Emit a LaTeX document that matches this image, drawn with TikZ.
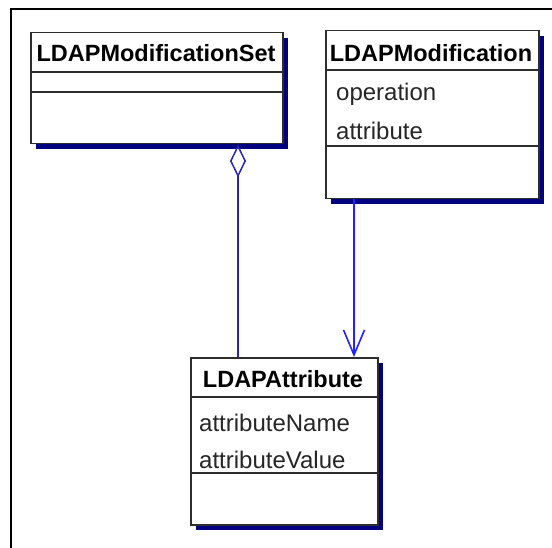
\documentclass[tikz,border=0pt]{standalone}
\usepackage{fontspec}
\setmainfont{Liberation Sans}
\usetikzlibrary{arrows.meta,shadows}
\definecolor{boxgray}{RGB}{45,45,45}
\definecolor{shadownavy}{RGB}{0,0,128}
\definecolor{aggblue}{RGB}{40,40,175}
\definecolor{linkblue}{RGB}{35,35,255}
\begin{document}
\begin{tikzpicture}[x=1pt, y=-1pt,
		classbox/.style={draw=boxgray, fill=white, line width=1.5pt, inner sep=0pt, anchor=north west,
			drop shadow={shadow xshift=5.5pt, shadow yshift=-5.5pt, fill=shadownavy, opacity=1}},
		sepline/.style={draw=boxgray, line width=1.5pt},
		headtext/.style={anchor=base, inner sep=0pt, font=\fontsize{23.5}{24}\selectfont\bfseries},
		attrtext/.style={anchor=base west, inner sep=0pt, font=\fontsize{24}{24}\selectfont, text=black!85}]
			\useasboundingbox (0, 0) rectangle (552, 548);
			\draw[-, black, line width=2.5pt]	(11, 548) to (11, 9) to (552, 9);

			\node[classbox, minimum width=252, minimum height=111] (setbox) at (30, 32) {};
			\node[classbox, minimum width=213, minimum height=168] (modbox) at (325, 30) {};
			\node[classbox, minimum width=187, minimum height=167] (attrbox) at (190, 357) {};

			\draw[sepline]	(30, 72) to (282, 72)
							(30, 92) to (282, 92);
			\draw[sepline]	(325, 70) to (538, 70)
							(325, 146) to (538, 146);
			\draw[sepline]	(190, 397) to (377, 397)
							(190, 473) to (377, 473);

			\node[headtext] (sethead) at (156, 62) {LDAPModificationSet};
			\node[headtext] (modhead) at (431, 62) {LDAPModification};
			\node[attrtext] (opattr) at (336, 101) {operation};
			\node[attrtext] (atattr) at (336, 140) {attribute};
			\node[headtext] (attrhead) at (283, 387) {LDAPAttribute};
			\node[attrtext] (nameattr) at (199, 431) {attributeName};
			\node[attrtext] (valattr) at (199, 468) {attributeValue};

			\coordinate (aggx) at (238, 0);
			\coordinate (linkx) at (354, 0);
			\draw[{Diamond[open, length=33pt, width=16pt, line width=1.5pt]}-, aggblue, line width=1.6pt]
				(setbox.south -| aggx) to (attrbox.north -| aggx);
			\draw[-{Straight Barb[length=25pt, width=21pt, line width=1.6pt]}, linkblue, line width=1.6pt]
				(modbox.south -| linkx) to (attrbox.north -| linkx);
		\end{tikzpicture}
\end{document}
